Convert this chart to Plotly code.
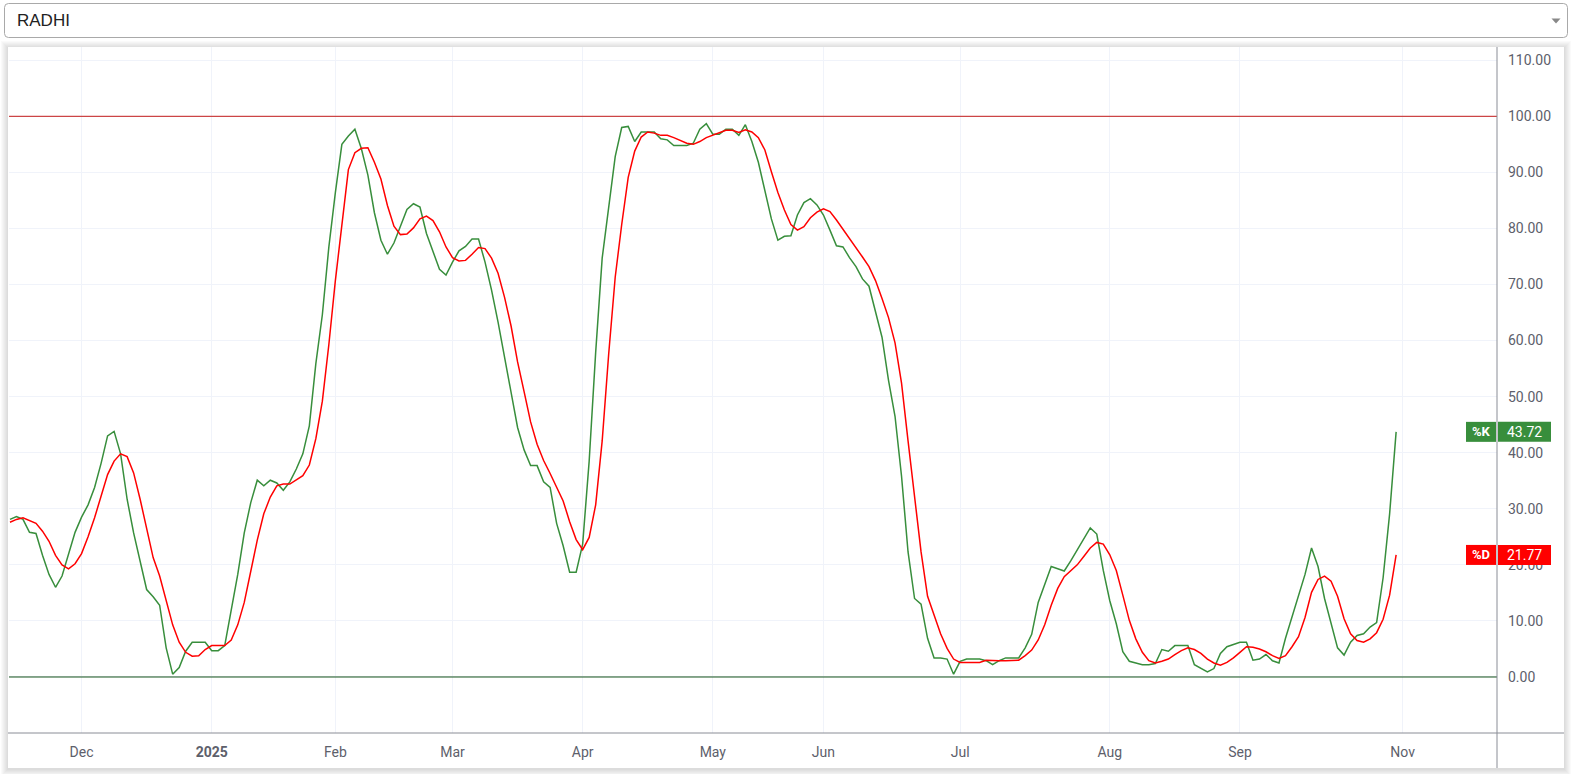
import plotly.graph_objects as go

SYMBOL = "RADHI"

# Stochastic %K (green) and %D (red), one value per bar
K = [
    28.1, 28.6, 28.1, 25.8, 25.6, 21.7, 18.3, 16.0, 18.0, 22.0,
    25.8, 28.5, 30.7, 33.8, 38.1, 43.0, 43.8, 39.8, 31.7, 25.7,
    20.7, 15.6, 14.3, 12.8, 5.2, 0.5, 1.7, 4.6, 6.2, 6.2,
    6.2, 4.7, 4.7, 5.6, 11.6, 18.3, 25.7, 31.1, 35.1, 34.1,
    35.1, 34.6, 33.3, 34.8, 37.1, 39.8, 44.8, 55.9, 64.6, 76.7,
    86.4, 95.0, 96.5, 97.7, 94.2, 89.5, 82.8, 77.9, 75.4, 77.4,
    80.4, 83.4, 84.4, 83.8, 79.1, 75.7, 72.7, 71.7, 74.0, 76.0,
    76.8, 78.1, 78.1, 74.0, 69.0, 63.3, 57.2, 50.5, 44.5, 40.5,
    37.7, 37.7, 34.8, 33.8, 27.4, 23.4, 18.7, 18.7, 23.7, 38.5,
    57.9, 74.7, 84.1, 92.8, 98.0, 98.2, 95.5, 97.2, 97.2, 97.2,
    96.0, 95.8, 94.8, 94.8, 94.8, 95.2, 97.7, 98.7, 96.8, 96.8,
    97.7, 97.7, 96.6, 98.5, 95.5, 91.8, 86.8, 81.7, 77.9, 78.6,
    78.7, 82.4, 84.6, 85.3, 84.2, 82.4, 79.7, 76.9, 76.7, 74.8,
    73.2, 71.0, 69.7, 65.0, 60.6, 52.9, 46.5, 35.8, 22.3, 14.0,
    13.0, 6.9, 3.4, 3.4, 3.2, 0.5, 2.8, 3.2, 3.2, 3.2,
    2.9, 2.2, 2.9, 3.4, 3.4, 3.4, 5.2, 7.6, 13.3, 16.6,
    19.7, 19.3, 18.9, 20.7, 22.7, 24.7, 26.6, 25.5, 19.0, 13.6,
    9.5, 4.5, 2.8, 2.5, 2.2, 2.2, 2.4, 4.9, 4.6, 5.6,
    5.6, 5.6, 2.2, 1.5, 0.9, 1.5, 4.2, 5.4, 5.8, 6.2,
    6.2, 3.0, 3.2, 4.0, 2.9, 2.5, 6.9, 10.6, 14.3, 18.3,
    23.0, 19.7, 14.0, 9.6, 5.2, 3.9, 6.2, 7.4, 7.7, 8.9,
    9.7, 17.7, 29.1, 43.72,
]

D = [
    27.6, 28.1, 28.4, 27.9, 27.4, 26.0, 24.2, 21.7, 20.0, 19.3,
    20.2, 22.0, 25.0, 28.4, 32.4, 36.1, 38.5, 39.8, 39.3, 36.4,
    31.7, 26.4, 21.3, 18.0, 13.6, 9.3, 6.2, 4.4, 3.7, 3.8,
    4.9, 5.6, 5.6, 5.6, 6.6, 9.3, 13.3, 19.0, 24.4, 29.1,
    32.1, 34.1, 34.4, 34.4, 35.1, 35.9, 37.8, 42.5, 49.2, 59.3,
    70.7, 80.7, 90.5, 93.5, 94.3, 94.4, 91.8, 88.8, 84.1, 80.4,
    78.9, 79.0, 80.1, 81.7, 82.2, 81.4, 79.4, 76.7, 74.8, 74.2,
    74.3, 75.4, 76.6, 76.4, 74.7, 72.0, 67.7, 62.6, 56.2, 50.9,
    45.5, 41.5, 38.6, 36.3, 33.8, 31.4, 27.7, 24.5, 22.7, 24.9,
    30.7, 42.1, 57.6, 71.3, 80.7, 89.1, 93.8, 96.3, 97.2, 97.0,
    96.6, 96.6, 96.2, 95.7, 95.2, 95.0, 95.5, 96.2, 96.6, 97.0,
    97.5, 97.5, 97.1, 97.6, 97.2, 96.2, 94.0, 90.1, 86.4, 83.3,
    80.7, 79.7, 80.3, 81.9, 82.9, 83.5, 83.0, 81.5, 79.9, 78.2,
    76.6, 74.9, 73.2, 70.7, 67.5, 64.1, 59.6, 52.4, 42.1, 31.7,
    22.3, 14.4, 10.9, 7.7, 5.1, 3.2, 2.6, 2.6, 2.6, 2.6,
    3.0, 2.9, 2.9, 2.9, 2.9, 3.0, 3.8, 4.8, 6.6, 9.3,
    12.8, 15.8, 17.9, 19.0, 20.0, 21.5, 23.0, 24.0, 23.7, 21.8,
    19.0, 14.6, 10.1, 6.8, 4.4, 2.9, 2.5, 2.8, 3.2, 4.0,
    4.7, 5.2, 4.9, 4.2, 3.2, 2.5, 2.1, 2.6, 3.4, 4.4,
    5.4, 5.3, 5.0, 4.5, 3.8, 3.3, 3.8, 5.4, 7.2, 10.6,
    15.1, 17.4, 18.0, 17.1, 14.4, 10.4, 7.7, 6.5, 6.2, 6.8,
    7.9, 10.3, 14.6, 21.77,
]

bar_index = list(range(len(K)))

# time-axis ticks (bar index of first bar of each month) and labels
tick_index = [11, 31, 50, 68, 88, 108, 125, 146, 169, 189, 214]
tick_labels = ["Dec", "<b>2025</b>", "Feb", "Mar", "Apr", "May", "Jun",
               "Jul", "Aug", "Sep", "Nov"]

price_ticks = [0, 10, 20, 30, 40, 50, 60, 70, 80, 90, 100, 110]
price_tick_labels = [f"{v:.2f}" for v in price_ticks]

upper_band = 100
lower_band = 0

# ---------------- layout geometry (pixels) ----------------
W, H = 1572, 774


def px(x):
    return x / W


def py(y):
    return 1 - y / H


PLOT_L, PLOT_R, PLOT_T, PLOT_B = 9, 1497, 47, 733
CARD_L, CARD_R, CARD_T, CARD_B = 8, 1564, 47, 768
X_RANGE = [-0.15, 228.5]
Y_RANGE = [-9.99, 112.36]
PX_PER_UNIT = (PLOT_B - PLOT_T) / (Y_RANGE[1] - Y_RANGE[0])

GREEN = "#388e3c"
RED = "#ff0000"
FONT = "Trebuchet MS, Roboto, sans-serif"
TEXT_COLOR = "#5d606b"
GRID = "#f0f3fa"
BORDER = "#8a8d96"

fig = go.Figure()
fig.add_trace(go.Scatter(x=bar_index, y=K, mode="lines", name="%K",
                         line=dict(color=GREEN, width=1.5), hoverinfo="skip"))
fig.add_trace(go.Scatter(x=bar_index, y=D, mode="lines", name="%D",
                         line=dict(color=RED, width=1.5), hoverinfo="skip"))

shapes = []
# card shadow
for k in range(1, 8):
    shapes.append(dict(type="rect", xref="paper", yref="paper", layer="below",
                       x0=px(CARD_L - k), x1=px(CARD_R + k),
                       y0=py(CARD_B + k + 1), y1=py(CARD_T - k + 1),
                       fillcolor="rgba(0,0,0,0.018)", line=dict(width=0)))
# card
shapes.append(dict(type="rect", xref="paper", yref="paper", layer="below",
                   x0=px(CARD_L), x1=px(CARD_R), y0=py(CARD_B), y1=py(CARD_T),
                   fillcolor="white", line=dict(width=0)))

# dropdown box with rounded corners
bx0, bx1, by0, by1, r = 4.5, 1567.5, 3.5, 37.5, 4


def P(x, y):
    return f"{px(x)},{py(y)}"


path = (f"M {P(bx0 + r, by0)} L {P(bx1 - r, by0)} Q {P(bx1, by0)} {P(bx1, by0 + r)} "
        f"L {P(bx1, by1 - r)} Q {P(bx1, by1)} {P(bx1 - r, by1)} "
        f"L {P(bx0 + r, by1)} Q {P(bx0, by1)} {P(bx0, by1 - r)} "
        f"L {P(bx0, by0 + r)} Q {P(bx0, by0)} {P(bx0 + r, by0)} Z")
shapes.append(dict(type="path", xref="paper", yref="paper", path=path,
                   fillcolor="white", line=dict(color="#a9a9a9", width=1)))
# dropdown arrow
shapes.append(dict(type="path", xref="paper", yref="paper",
                   path=f"M {P(1551.5, 18.5)} L {P(1560.5, 18.5)} L {P(1556, 23.5)} Z",
                   fillcolor="#888888", line=dict(width=0)))

# band lines
shapes.append(dict(type="line", xref="x domain", yref="y", x0=0, x1=1,
                   y0=upper_band, y1=upper_band, line=dict(color="#c41a1a", width=1)))
shapes.append(dict(type="line", xref="x domain", yref="y", x0=0, x1=1,
                   y0=lower_band, y1=lower_band, line=dict(color="#14521a", width=1)))

# axis borders
shapes.append(dict(type="line", xref="paper", yref="paper",
                   x0=px(CARD_L), x1=px(CARD_R), y0=py(PLOT_B), y1=py(PLOT_B),
                   line=dict(color=BORDER, width=1)))
shapes.append(dict(type="line", xref="paper", yref="paper",
                   x0=px(PLOT_R), x1=px(PLOT_R), y0=py(CARD_B), y1=py(CARD_T),
                   line=dict(color=BORDER, width=1)))

annotations = [dict(text=SYMBOL, xref="paper", yref="paper", x=px(15), y=py(20.5),
                    xanchor="left", yanchor="middle", showarrow=False,
                    font=dict(family="Liberation Sans, Arial, sans-serif", size=17,
                              color="#222222"))]

# last-value labels
half = 10 / PX_PER_UNIT
for name, series, color in (("%K", K, GREEN), ("%D", D, RED)):
    v = series[-1]
    shapes.append(dict(type="rect", xref="paper", yref="y", x0=px(1466), x1=px(1496),
                       y0=v - half, y1=v + half, fillcolor=color, line=dict(width=0)))
    shapes.append(dict(type="rect", xref="paper", yref="y", x0=px(1498), x1=px(1551),
                       y0=v - half, y1=v + half, fillcolor=color, line=dict(width=0)))
    annotations.append(dict(text=f"<b>{name}</b>", xref="paper", yref="y", x=px(1481), y=v,
                            xanchor="center", yanchor="middle", showarrow=False,
                            font=dict(family=FONT, size=13, color="white")))
    annotations.append(dict(text=f"{v:.2f}", xref="paper", yref="y", x=px(1524.5), y=v,
                            xanchor="center", yanchor="middle", showarrow=False,
                            font=dict(family=FONT, size=14, color="white")))

fig.update_layout(
    width=W, height=H, autosize=False,
    margin=dict(l=0, r=0, t=0, b=0, pad=0),
    paper_bgcolor="white", plot_bgcolor="rgba(0,0,0,0)",
    showlegend=False,
    font=dict(family=FONT, size=14, color=TEXT_COLOR),
    shapes=shapes, annotations=annotations,
    xaxis=dict(domain=[px(PLOT_L), px(PLOT_R)], range=X_RANGE,
               tickmode="array", tickvals=tick_index, ticktext=tick_labels,
               showgrid=True, gridcolor=GRID, gridwidth=1,
               zeroline=False, showline=False, ticks="",
               ticklabelstandoff=9, fixedrange=True),
    yaxis=dict(domain=[py(PLOT_B), py(PLOT_T)], range=Y_RANGE, side="right",
               tickmode="array", tickvals=price_ticks, ticktext=price_tick_labels,
               showgrid=True, gridcolor=GRID, gridwidth=1,
               zeroline=False, showline=False, ticks="",
               ticklabelstandoff=10, fixedrange=True),
)

fig.write_html("out.html", config={"displayModeBar": False},
               post_script="document.body.style.margin='0px';"
                           "document.body.style.overflow='hidden';")
